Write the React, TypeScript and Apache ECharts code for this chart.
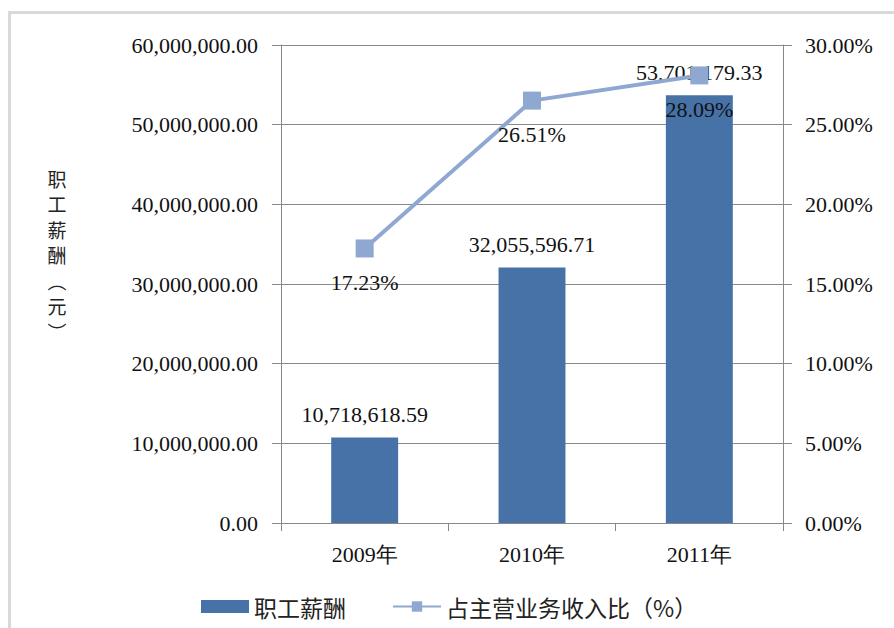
import React, { useEffect, useRef } from "react";
import * as echarts from "echarts";

const categories = ["2009年", "2010年", "2011年"];
const salaryValues = [10718618.59, 32055596.71, 53701179.33];
const ratioValues = [17.23, 26.51, 28.09];
const salaryName = "职工薪酬";
const ratioName = "占主营业务收入比（%）";
const yAxisTitleChars = ["职", "工", "薪", "酬", "︵", "元", "︶"];

const serif = "Liberation Serif";
const cjk = "Noto Sans CJK SC";

const fmtMoney = (v: number) =>
  v.toLocaleString("en-US", { minimumFractionDigits: 2, maximumFractionDigits: 2 });

export default function App() {
  const ref = useRef<HTMLDivElement>(null);
  useEffect(() => {
    if (!ref.current) return;
    const chart = echarts.init(ref.current, undefined, { renderer: "svg" });
    const titleTexts = yAxisTitleChars.map((ch, i) => ({
      type: "text",
      x: 57,
      y: 178 + i * 25.5,
      style: {
        text: ch,
        fontFamily: cjk,
        fontSize: 19,
        fill: "#222",
        align: "center",
        verticalAlign: "middle",
      },
    }));
    chart.setOption({
      animation: false,
      backgroundColor: "#ffffff",
      grid: { left: 281, right: 111, top: 45, bottom: 105, containLabel: false },
      legend: {
        left: 196,
        top: 590,
        itemWidth: 48,
        itemHeight: 13,
        itemGap: 46,
        textStyle: { fontFamily: cjk, fontSize: 23, color: "#222" },
        data: [
          { name: salaryName, icon: "rect" },
          { name: ratioName },
        ],
      },
      graphic: [
        {
          type: "rect",
          z: -10,
          silent: true,
          shape: { x: 9.5, y: 12.5, width: 1000, height: 800 },
          style: { fill: "none", stroke: "#d9d9d9", lineWidth: 3 },
        },
        ...titleTexts,
      ],
      xAxis: {
        type: "category",
        data: categories,
        boundaryGap: true,
        axisLine: { show: true, lineStyle: { color: "#888", width: 1 } },
        axisTick: { show: true, length: 8, lineStyle: { color: "#888" } },
        axisLabel: { margin: 20, fontFamily: serif, fontSize: 22, color: "#111" },
      },
      yAxis: [
        {
          type: "value",
          min: 0,
          max: 60000000,
          interval: 10000000,
          axisLine: { show: true, lineStyle: { color: "#888", width: 1 } },
          axisTick: { show: true, length: 9, lineStyle: { color: "#888" } },
          splitLine: { show: true, lineStyle: { color: "#888", width: 1 } },
          axisLabel: {
            margin: 23,
            fontFamily: serif,
            fontSize: 22,
            color: "#111",
            formatter: (v: number) => fmtMoney(v),
          },
        },
        {
          type: "value",
          min: 0,
          max: 30,
          interval: 5,
          position: "right",
          axisLine: { show: true, lineStyle: { color: "#888", width: 1 } },
          axisTick: { show: true, length: 9, lineStyle: { color: "#888" } },
          splitLine: { show: false },
          axisLabel: {
            margin: 22,
            fontFamily: serif,
            fontSize: 22,
            color: "#111",
            formatter: (v: number) => v.toFixed(2) + "%",
          },
        },
      ],
      series: [
        {
          name: salaryName,
          type: "bar",
          data: salaryValues,
          barWidth: "40%",
          itemStyle: { color: "#4672A8" },
          label: {
            show: true,
            position: "top",
            distance: 12,
            fontFamily: serif,
            fontSize: 22,
            color: "#111",
            formatter: (p: any) => fmtMoney(p.value),
          },
        },
        {
          name: ratioName,
          type: "line",
          yAxisIndex: 1,
          data: ratioValues,
          symbol: "rect",
          symbolSize: 18,
          lineStyle: { color: "#8FA8D2", width: 4 },
          itemStyle: { color: "#8FA8D2" },
          label: {
            show: true,
            position: "bottom",
            distance: 14,
            fontFamily: serif,
            fontSize: 22,
            color: "#111",
            formatter: (p: any) => p.value.toFixed(2) + "%",
          },
        },
      ],
    });
    return () => chart.dispose();
  }, []);
  return (
    <div
      ref={ref}
      style={{ position: "fixed", left: 0, top: 0, width: 894, height: 628 }}
    />
  );
}
